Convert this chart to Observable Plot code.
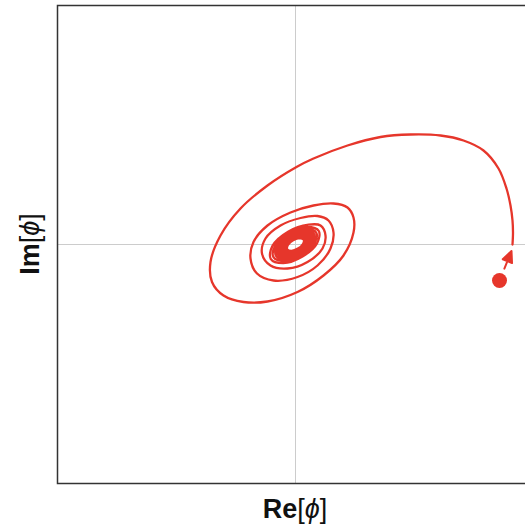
<!DOCTYPE html>
<html><head><meta charset="utf-8">
<script src="https://cdn.jsdelivr.net/npm/d3@7"></script>
<script src="https://cdn.jsdelivr.net/npm/@observablehq/plot@0.6"></script>
<style>html,body{margin:0;padding:0;overflow:hidden;background:#fff;}</style>
</head><body><div id="chart"></div>
<script>
// Trajectory: outer sweep, then the tightening loops
const outerRe = [2.17, 2.175, 2.17, 2.15, 2.11, 2.03, 1.88, 1.68, 1.45, 1.15, 0.85, 0.52, 0.18, 0.01, -0.28, -0.55, -0.75, -0.85, -0.835, -0.72, -0.52, -0.28, 0.02, 0.28, 0.48, 0.58, 0.58, 0.52, 0.38, 0.18, -0.05, -0.28, -0.42, -0.45, -0.385, -0.22, 0.02, 0.22, 0.35, 0.38, 0.33, 0.22, 0.05, -0.15, -0.30, -0.335, -0.25, -0.08, 0.12, 0.27, 0.30, 0.25];
const outerIm = [0, 0.12, 0.24, 0.39, 0.56, 0.76, 0.94, 1.04, 1.09, 1.10, 1.075, 0.99, 0.86, 0.775, 0.59, 0.36, 0.09, -0.175, -0.375, -0.51, -0.575, -0.57, -0.475, -0.31, -0.11, 0.12, 0.27, 0.37, 0.41, 0.39, 0.32, 0.19, 0.025, -0.14, -0.29, -0.36, -0.325, -0.21, -0.04, 0.12, 0.24, 0.285, 0.265, 0.19, 0.06, -0.09, -0.21, -0.24, -0.175, -0.04, 0.09, 0.19];
const innerRe = [
  0.131, -0.074, -0.230, -0.248, -0.123, 0.070, 0.216, 0.233,
  0.115, -0.065, -0.203, -0.220, -0.109, 0.062, 0.191, 0.207,
  0.102, -0.058, -0.181, -0.195, -0.097, 0.055, 0.171, 0.185,
  0.091, -0.052, -0.162, -0.175, -0.087, 0.049, 0.154, 0.167,
  0.083, -0.047, -0.146, -0.159, -0.079, 0.045, 0.139, 0.151,
  0.075, -0.043, -0.133, -0.144, -0.072, 0.041, 0.127, 0.138,
  0.068, -0.039, -0.122, -0.132, -0.066, 0.037, 0.117, 0.127,
  0.063, -0.036, -0.112, -0.122, -0.061, 0.035, 0.109, 0.118,
  0.059, -0.034, -0.105, -0.114, -0.057, 0.032, 0.101, 0.110,
  0.055, -0.031, -0.098, -0.107, -0.053, 0.030, 0.095, 0.104,
  0.052, -0.030, -0.093, -0.101, -0.051, 0.029, 0.090, 0.099,
  0.049, -0.028, -0.088, -0.096, -0.048, 0.028, 0.086, 0.094,
  0.047, -0.027, -0.084, -0.092, -0.046, 0.026, 0.083, 0.091,
  0.045, -0.026, -0.082, -0.089, -0.045, 0.026, 0.080, 0.088,
  0.044, -0.025, -0.079, -0.087, -0.043, 0.025, 0.078, 0.085,
  0.043, -0.024, -0.077, -0.084, -0.042, 0.024, 0.076, 0.083,
  0.042, -0.024, -0.076, -0.083, -0.042, 0.024, 0.075, 0.082,
  0.041];
const innerIm = [
  0.198, 0.128, -0.014, -0.143, -0.186, -0.120, 0.013, 0.135,
  0.175, 0.113, -0.012, -0.127, -0.165, -0.107, 0.012, 0.119,
  0.155, 0.100, -0.011, -0.113, -0.147, -0.095, 0.010, 0.107,
  0.139, 0.090, -0.010, -0.101, -0.132, -0.086, 0.009, 0.096,
  0.125, 0.081, -0.009, -0.092, -0.120, -0.077, 0.009, 0.087,
  0.114, 0.074, -0.008, -0.083, -0.109, -0.070, 0.008, 0.080,
  0.104, 0.067, -0.007, -0.076, -0.100, -0.065, 0.007, 0.073,
  0.096, 0.062, -0.007, -0.071, -0.092, -0.060, 0.007, 0.068,
  0.089, 0.058, -0.006, -0.066, -0.086, -0.056, 0.006, 0.064,
  0.083, 0.054, -0.006, -0.062, -0.081, -0.053, 0.006, 0.060,
  0.079, 0.051, -0.006, -0.058, -0.077, -0.050, 0.006, 0.057,
  0.075, 0.049, -0.005, -0.056, -0.073, -0.048, 0.005, 0.054,
  0.071, 0.047, -0.005, -0.053, -0.070, -0.046, 0.005, 0.052,
  0.069, 0.045, -0.005, -0.052, -0.068, -0.044, 0.005, 0.051,
  0.067, 0.044, -0.005, -0.050, -0.066, -0.043, 0.005, 0.049,
  0.065, 0.042, -0.005, -0.049, -0.064, -0.042, 0.005, 0.048,
  0.063, 0.042, -0.005, -0.048, -0.063, -0.041, 0.005, 0.048,
  0.063];
// initial point and direction arrow
const startRe = [2.04];
const startIm = [-0.36];
const arrowTipRe = [2.16];
const arrowTipIm = [-0.065];
// labels
const xLabelMain = "Re";
const yLabelMain = "Im";
const labelSymbol = "\u03D5";

const re = outerRe.concat(innerRe);
const im = outerIm.concat(innerIm);
const idx = d3.range(re.length);
const red = "#e6362b";

const arrowShape = {
  draw(ctx, l) {
    ctx.moveTo(0, 0);
    ctx.lineTo(0, -l + 8);
    ctx.moveTo(0, -l);
    ctx.lineTo(-5, -l + 11);
    ctx.lineTo(5, -l + 11);
    ctx.closePath();
  }
};

const plot = Plot.plot({
  width: 545,
  height: 527,
  marginLeft: 57,
  marginRight: 12,
  marginTop: 5,
  marginBottom: 44,
  x: {domain: [-2.38, 2.38], axis: null},
  y: {domain: [-2.39, 2.39], axis: null},
  style: {maxWidth: "none", background: "white", overflow: "visible"},
  marks: [
    Plot.ruleX([0], {stroke: "#cccccc", strokeWidth: 1}),
    Plot.ruleY([0], {stroke: "#cccccc", strokeWidth: 1}),
    Plot.line(idx, {x: i => re[i], y: i => im[i], curve: "catmull-rom", stroke: red, strokeWidth: 2.3}),
    Plot.dot(d3.range(startRe.length), {x: i => startRe[i], y: i => startIm[i], r: 7.5, fill: red, stroke: "none"}),
    Plot.vector(d3.range(arrowTipRe.length), {x: i => arrowTipRe[i], y: i => arrowTipIm[i], anchor: "end", length: 19, rotate: 22, shape: arrowShape, stroke: red, fill: red, strokeWidth: 2}),
    Plot.frame({stroke: "#333333", strokeWidth: 1.5})
  ]
});
document.getElementById("chart").appendChild(plot);

const svg = d3.select(plot);
const xs = plot.scale("x"), ys = plot.scale("y");
const cx = (xs.range[0] + xs.range[1]) / 2;
const cy = (ys.range[0] + ys.range[1]) / 2;
const font = "27px 'Liberation Sans', Arial, sans-serif";

function addLabel(sel, main) {
  sel.attr("text-anchor", "middle").attr("fill", "#111").style("font", font);
  sel.append("tspan").attr("font-weight", "bold").text(main);
  sel.append("tspan").text("[");
  sel.append("tspan").attr("font-style", "italic").text(labelSymbol);
  sel.append("tspan").text("]");
}
addLabel(svg.append("text").attr("x", cx).attr("y", 518), xLabelMain);
addLabel(svg.append("text").attr("transform", `translate(39,${cy}) rotate(-90)`), yLabelMain);
</script>
</body></html>
